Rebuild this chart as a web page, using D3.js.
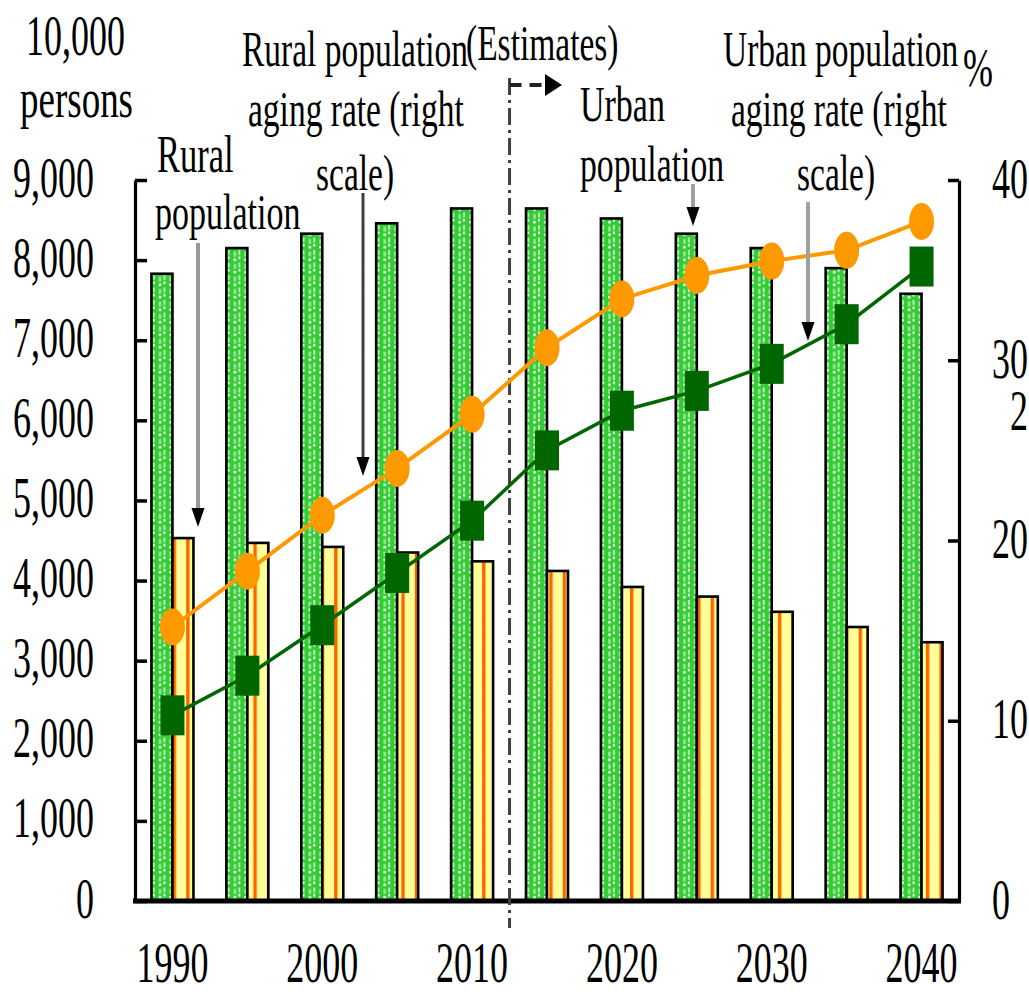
<!DOCTYPE html>
<html>
<head>
<meta charset="utf-8">
<script src="https://cdn.jsdelivr.net/npm/d3@7"></script>
<style>
  html, body { margin: 0; padding: 0; background: #fff; }
  svg { display: block; font-family: "Liberation Serif", "Times New Roman", serif; }
</style>
</head>
<body>
<script>
// Years shown on the category axis (five-year steps)
const years = [1990, 1995, 2000, 2005, 2010, 2015, 2020, 2025, 2030, 2035, 2040];
// Population, in units of 10,000 persons (left scale)
const urbanPop = [7830, 8150, 8330, 8460, 8645, 8645, 8520, 8330, 8150, 7900, 7580];
const ruralPop = [4530, 4470, 4420, 4350, 4240, 4120, 3920, 3800, 3610, 3420, 3230];
// Aging rate, % (right scale)
const ruralAging = [15.2, 18.3, 21.4, 24.0, 27.0, 30.7, 33.4, 34.7, 35.5, 36.1, 37.7];
const urbanAging = [10.3, 12.5, 15.3, 18.2, 21.1, 25.0, 27.2, 28.3, 29.8, 32.0, 35.2];
// Tick labels
const leftTicks = [0, 1000, 2000, 3000, 4000, 5000, 6000, 7000, 8000, 9000];
const rightTicks = [0, 10, 20, 30, 40];
const yearLabels = [1990, 2000, 2010, 2020, 2030, 2040];

const W = 1029, H = 995;
const plot = { left: 135, right: 959, top: 180, bottom: 901 };

const svg = d3.select("body").append("svg")
  .attr("width", W).attr("height", H)
  .attr("viewBox", `0 0 ${W} ${H}`);

svg.append("rect").attr("width", W).attr("height", H).attr("fill", "#fff");

const x = d3.scaleBand().domain(years).range([plot.left, plot.right]);
const bw = x.bandwidth();
const cx = d => x(d) + bw / 2;
const yL = d3.scaleLinear().domain([0, 9000]).range([plot.bottom, plot.top]);
const yR = d3.scaleLinear().domain([0, 40]).range([plot.bottom, plot.top]);

const BAR_W = 21;

// ---- fill patterns ----
const defs = svg.append("defs");
const dots = defs.append("pattern")
  .attr("id", "urbanDots")
  .attr("patternUnits", "userSpaceOnUse")
  .attr("x", plot.left + bw / 2 - BAR_W + 1.3).attr("y", 0)
  .attr("width", bw / 7).attr("height", 12.5);
dots.append("rect").attr("width", bw / 7).attr("height", 12.5).attr("fill", "#33cc33");
dots.append("rect").attr("x", 0).attr("y", 0).attr("width", 2).attr("height", 5).attr("fill", "#b8ecb8");
dots.append("rect").attr("x", 0).attr("y", 6.5).attr("width", 2).attr("height", 2.5).attr("fill", "#ffffff");
dots.append("rect").attr("x", 6).attr("y", 1.5).attr("width", 2.5).attr("height", 5).attr("fill", "#9fe69f");
dots.append("rect").attr("x", 6).attr("y", 8.5).attr("width", 2.5).attr("height", 2.5).attr("fill", "#ffffff");

const stripes = defs.append("pattern")
  .attr("id", "ruralStripes")
  .attr("patternUnits", "userSpaceOnUse")
  .attr("x", 172.7).attr("y", 0)
  .attr("width", 13.45).attr("height", 10);
stripes.append("rect").attr("width", 13.45).attr("height", 10).attr("fill", "#ffff99");
stripes.append("rect").attr("x", 0).attr("width", 3.4).attr("height", 10).attr("fill", "#ff6600");

// ---- bars ----
const bars = svg.append("g");
bars.selectAll("rect.urban").data(years).join("rect")
  .attr("class", "urban")
  .attr("x", d => cx(d) - BAR_W)
  .attr("y", (d, i) => yL(urbanPop[i]))
  .attr("width", BAR_W)
  .attr("height", (d, i) => yL(0) - yL(urbanPop[i]))
  .attr("fill", "url(#urbanDots)")
  .attr("stroke", "#000").attr("stroke-width", 2.6);

bars.selectAll("rect.rural").data(years).join("rect")
  .attr("class", "rural")
  .attr("x", d => cx(d))
  .attr("y", (d, i) => yL(ruralPop[i]))
  .attr("width", BAR_W)
  .attr("height", (d, i) => yL(0) - yL(ruralPop[i]))
  .attr("fill", "url(#ruralStripes)")
  .attr("stroke", "#000").attr("stroke-width", 2.6);

// ---- text helper (tall, narrow serif lettering) ----
function addText(parent, str, tx, ty, size, sy, anchor) {
  return parent.append("text")
    .attr("transform", `translate(${tx},${ty}) scale(1,${sy})`)
    .attr("font-size", size)
    .attr("text-anchor", anchor || "start")
    .attr("fill", "#000")
    .text(str);
}

// ---- axes ----
const leftAxis = svg.append("g")
  .attr("transform", `translate(${plot.left},0)`)
  .call(d3.axisLeft(yL).tickValues(leftTicks).tickFormat(d3.format(",")).tickSize(-12).tickSizeOuter(0));
leftAxis.select(".domain").attr("stroke", "#000").attr("stroke-width", 3.2);
leftAxis.selectAll(".tick line").attr("stroke", "#000").attr("stroke-width", 3.5);
leftAxis.selectAll(".tick text")
  .attr("x", null).attr("y", null).attr("dy", null)
  .attr("transform", "translate(-41,16) scale(1,1.58)")
  .attr("text-anchor", "end")
  .attr("font-size", 36)
  .attr("font-family", "'Liberation Serif', 'Times New Roman', serif")
  .attr("fill", "#000");

const rightAxis = svg.append("g")
  .attr("transform", `translate(${plot.right},0)`)
  .call(d3.axisRight(yR).tickValues(rightTicks).tickSize(-11).tickSizeOuter(0));
rightAxis.select(".domain").attr("stroke", "#000").attr("stroke-width", 3.2);
rightAxis.selectAll(".tick line").attr("stroke", "#000").attr("stroke-width", 3.5);
rightAxis.selectAll(".tick text")
  .attr("x", null).attr("y", null).attr("dy", null)
  .attr("transform", "translate(33,17) scale(1,1.58)")
  .attr("text-anchor", "start")
  .attr("font-size", 36)
  .attr("font-family", "'Liberation Serif', 'Times New Roman', serif")
  .attr("fill", "#000");

// baseline
svg.append("line")
  .attr("x1", plot.left - 2).attr("x2", plot.right + 2)
  .attr("y1", yL(0)).attr("y2", yL(0))
  .attr("stroke", "#000").attr("stroke-width", 5);

// year labels
const yearG = svg.append("g");
yearLabels.forEach(yr => addText(yearG, String(yr), cx(yr), 982, 36, 1.58, "middle"));

// ---- estimates divider ----
const divX = (cx(2010) + cx(2015)) / 2;
svg.append("line")
  .attr("x1", divX).attr("x2", divX).attr("y1", 78).attr("y2", 928)
  .attr("stroke", "#404040").attr("stroke-width", 3)
  .attr("stroke-dasharray", "17,5,3,5");
svg.append("line")
  .attr("x1", divX).attr("x2", 546).attr("y1", 85).attr("y2", 85)
  .attr("stroke", "#222").attr("stroke-width", 4)
  .attr("stroke-dasharray", "12,8");
svg.append("path")
  .attr("d", "M545,74 L545,96 L562,85 Z")
  .attr("fill", "#000");

// ---- aging-rate lines ----
const line = d3.line().x((d, i) => cx(years[i])).y(d => yR(d));
svg.append("path").datum(urbanAging)
  .attr("d", line).attr("fill", "none")
  .attr("stroke", "#006600").attr("stroke-width", 3.5);
svg.append("path").datum(ruralAging)
  .attr("d", line).attr("fill", "none")
  .attr("stroke", "#ff9900").attr("stroke-width", 4);

svg.append("g").selectAll("rect").data(urbanAging).join("rect")
  .attr("x", (d, i) => cx(years[i]) - 12)
  .attr("y", d => yR(d) - 20)
  .attr("width", 24).attr("height", 40)
  .attr("fill", "#006600");
svg.append("g").selectAll("ellipse").data(ruralAging).join("ellipse")
  .attr("cx", (d, i) => cx(years[i]))
  .attr("cy", d => yR(d))
  .attr("rx", 12.5).attr("ry", 18.5)
  .attr("fill", "#ff9900");

// ---- callout arrows ----
function arrow(ax, y1, tip, color, width) {
  svg.append("line")
    .attr("x1", ax).attr("x2", ax).attr("y1", y1).attr("y2", tip - 14)
    .attr("stroke", color).attr("stroke-width", width);
  svg.append("path")
    .attr("d", `M${ax - 6.5},${tip - 19} L${ax + 6.5},${tip - 19} L${ax},${tip} Z`)
    .attr("fill", "#000");
}
arrow(198, 243, 527, "#999", 4);
arrow(363, 193, 476, "#404040", 3);
arrow(693, 184, 226, "#a0a0a0", 4);
arrow(808, 202, 341, "#a0a0a0", 4);

// ---- titles and callout text ----
const T = svg.append("g");
const TS = 33.5, TY = 1.5;
addText(T, "10,000", 26, 55, 36, 1.58);
addText(T, "persons", 20, 117, 37, TY);
addText(T, "%", 963, 86, 36, 1.5);
addText(T, "2", 1010, 430, 36, 1.58);

addText(T, "Rural population", 242, 66, TS, TY);
addText(T, "(Estimates)", 466, 60, TS, TY);
addText(T, "aging rate (right", 248, 126, TS, TY);
addText(T, "scale)", 316, 190, TS, TY);

addText(T, "Rural", 157, 172, 34.5, TY);
addText(T, "population", 155, 229, 34, TY);

addText(T, "Urban", 580, 121, 34, TY);
addText(T, "population", 580, 181, 33.7, TY);

addText(T, "Urban population", 723, 66, TS, TY);
addText(T, "aging rate (right", 731, 126, TS, TY);
addText(T, "scale)", 797, 190, TS, TY);
</script>
</body>
</html>
